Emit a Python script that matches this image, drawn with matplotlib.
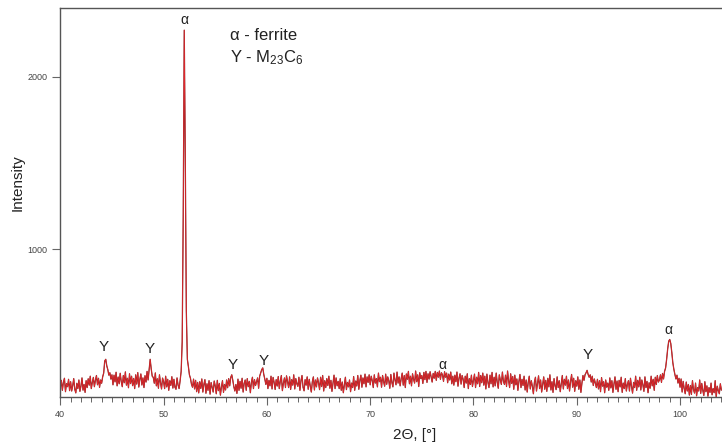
import numpy as np
import matplotlib
matplotlib.use("Agg")
import matplotlib.pyplot as plt

plt.rcParams['font.family'] = ['Liberation Sans', 'DejaVu Sans']
plt.rcParams['mathtext.default'] = 'regular'

# 2-theta scan, 0.1 deg step from 40.0 to 104.0
two_theta_start, two_theta_step = 40.0, 0.1
intensity = [
    195, 238, 180, 226, 250, 172, 219, 201, 244, 178,
    230, 176, 207, 248, 186, 165, 221, 190, 240, 174,
    205, 252, 181, 214, 168, 236, 196, 247, 210, 262,
    190, 226, 255, 201, 238, 266, 212, 250, 197, 240,
    221, 258, 280, 350, 360, 322, 300, 268, 282, 245,
    270, 212, 268, 229, 285, 206, 257, 218, 279, 231,
    201, 266, 224, 287, 210, 250, 195, 276, 219, 262,
    207, 249, 190, 270, 216, 283, 199, 243, 275, 211,
    252, 196, 265, 228, 290, 240, 300, 360, 305, 262,
    255, 221, 281, 206, 247, 192, 270, 224, 188, 251,
    230, 190, 262, 200, 244, 180, 236, 208, 259, 193,
    244, 198, 186, 252, 211, 190, 236, 290, 460, 1190,
    2270, 1530, 640, 360, 318, 270, 250, 215, 198, 245,
    188, 238, 172, 226, 165, 230, 191, 246, 170, 214,
    242, 163, 218, 180, 236, 158, 225, 196, 170, 234,
    205, 160, 238, 178, 220, 152, 199, 236, 168, 214,
    182, 240, 195, 248, 206, 255, 270, 238, 201, 176,
    214, 162, 245, 180, 232, 192, 250, 170, 221, 240,
    180, 248, 201, 232, 166, 226, 256, 190, 242, 208,
    230, 252, 192, 262, 280, 300, 310, 272, 245, 214,
    250, 190, 238, 206, 262, 188, 255, 226, 185, 242,
    205, 260, 190, 234, 266, 178, 222, 252, 196, 264,
    231, 196, 258, 185, 242, 210, 270, 188, 248, 218,
    203, 256, 180, 236, 266, 198, 177, 242, 210, 258,
    186, 244, 204, 170, 230, 258, 182, 240, 200, 252,
    224, 184, 256, 202, 266, 176, 236, 196, 248, 208,
    262, 192, 238, 174, 220, 268, 190, 252, 206, 232,
    190, 248, 180, 228, 166, 212, 256, 184, 226, 200,
    240, 172, 222, 196, 260, 180, 234, 205, 266, 186,
    236, 268, 198, 252, 218, 274, 200, 258, 226, 270,
    212, 262, 236, 196, 270, 222, 248, 200, 280, 230,
    256, 198, 266, 230, 204, 274, 215, 258, 236, 192,
    272, 226, 200, 280, 240, 212, 286, 222, 258, 206,
    248, 280, 210, 266, 196, 275, 244, 290, 218, 262,
    206, 276, 244, 222, 292, 230, 270, 202, 282, 248,
    266, 220, 284, 242, 290, 226, 276, 245, 288, 258,
    228, 278, 250, 290, 238, 284, 256, 292, 244, 282,
    270, 232, 288, 256, 280, 224, 274, 240, 286, 218,
    262, 210, 268, 230, 286, 204, 250, 276, 216, 266,
    244, 196, 262, 222, 276, 190, 248, 214, 268, 202,
    238, 274, 196, 256, 218, 284, 202, 266, 224, 280,
    210, 262, 188, 274, 226, 196, 268, 218, 284, 200,
    256, 206, 280, 226, 192, 270, 240, 214, 286, 232,
    214, 268, 202, 292, 236, 196, 276, 220, 260, 186,
    268, 212, 246, 180, 232, 272, 196, 244, 208, 262,
    182, 240, 170, 226, 262, 188, 236, 204, 160, 228,
    256, 176, 218, 264, 190, 240, 170, 212, 258, 186,
    238, 174, 250, 200, 270, 182, 230, 168, 248, 206,
    184, 258, 196, 236, 172, 220, 266, 188, 244, 210,
    262, 190, 240, 176, 232, 272, 198, 250, 174, 236,
    204, 258, 186, 240, 168, 222, 266, 238, 270, 282,
    296, 272, 256, 270, 228, 262, 208, 246, 222, 196,
    244, 188, 236, 172, 254, 204, 230, 166, 240, 198,
    222, 180, 252, 194, 236, 168, 216, 258, 186, 234,
    172, 238, 200, 256, 168, 222, 190, 248, 176, 214,
    236, 176, 250, 202, 164, 226, 196, 262, 180, 238,
    200, 256, 182, 240, 212, 174, 258, 196, 232, 166,
    224, 192, 262, 206, 244, 180, 256, 214, 266, 228,
    240, 270, 226, 278, 246, 290, 310, 360, 420, 465,
    475, 452, 400, 340, 302, 272, 246, 268, 222, 250,
    198, 246, 170, 232, 190, 160, 228, 176, 214, 152,
    208, 156, 236, 184, 164, 222, 148, 196, 176, 240,
    162, 220, 180, 150, 230, 172, 206, 146, 196, 168,
    222, 154, 190, 166, 236, 140, 204, 178, 160, 218,
    182,
]
two_theta = two_theta_start + two_theta_step * np.arange(len(intensity))

# peak labels (phase, 2theta, label height)
peak_phase = ["α", "Y", "Y", "Y", "Y", "α", "Y", "α"]
peak_pos = [52.0, 44.2, 48.7, 56.7, 59.7, 77.0, 91.1, 98.9]
peak_lab_y = [2329, 431, 420, 327, 350, 325, 385, 530]

fig = plt.figure(figsize=(7.22, 4.47), dpi=100)
ax = fig.add_axes([60.3/722, 1-396.7/447, 1-60.3/722, (396.7-8.3)/447])
ax.plot(two_theta, intensity, color="#7a2626", lw=0.9)
ax.plot(two_theta, intensity, color="#e3262b", lw=0.55)
ax.set_xlim(40, 104.06); ax.set_ylim(143, 2397)

ax.set_xticks([40, 50, 60, 70, 80, 90, 100])
ax.set_xticks(np.arange(41, 105, 1), minor=True)
ax.set_yticks([1000, 2000])
ax.tick_params(axis="both", which="major", length=6, width=0.8, color="#666666", labelsize=6.5, labelcolor="#444444")
ax.tick_params(axis="x", which="minor", length=3.5, width=0.7, color="#666666")
for s in ["left", "bottom", "top"]:
    ax.spines[s].set_color("#555555"); ax.spines[s].set_linewidth(1.0)
ax.spines["right"].set_visible(False)

for ph, x, y in zip(peak_phase, peak_pos, peak_lab_y):
    fs = 10 if ph == "α" else 11
    ax.text(x, y, ph, ha="center", va="center", fontsize=fs, color="#222222")

ax.text(56.4, 2242, "α - ferrite", ha="left", va="center", fontsize=12, color="#222222")
ax.text(56.4, 2108, "Y - M$_{23}$C$_6$", ha="left", va="center", fontsize=12, color="#222222")

fig.text(415/722, 1-435/447, "2Θ, [°]", ha="center", va="center", fontsize=11, color="#222222")
fig.text(18/722, 1-183/447, "Intensity", ha="center", va="center", rotation=90, fontsize=11, color="#222222")

fig.savefig("out.png", dpi=100)
